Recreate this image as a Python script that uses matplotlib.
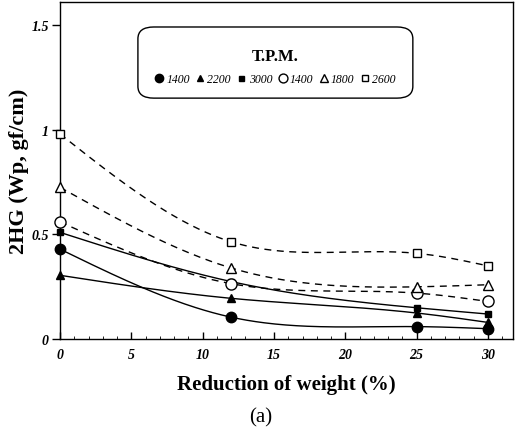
import numpy as np
import matplotlib.pyplot as plt
from matplotlib.patches import FancyBboxPatch
from matplotlib.ticker import MultipleLocator

# reduction of weight (%)
reduction = [0, 12, 25, 30]

# 2HG values per T.P.M. series
filled_1400 = [0.43, 0.105, 0.06, 0.05]
filled_2200 = [0.305, 0.195, 0.125, 0.08]
filled_3000 = [0.51, 0.275, 0.15, 0.12]
open_1400 = [0.56, 0.265, 0.22, 0.18]
open_1800 = [0.725, 0.34, 0.25, 0.26]
open_2600 = [0.98, 0.465, 0.41, 0.35]

labels = ['1400', '2200', '3000', '1400', '1800', '2600']


def natural_spline(x, y, n=200):
    # natural cubic spline through the measured points (smooth curve like the figure)
    x = np.asarray(x, float)
    y = np.asarray(y, float)
    k = len(x)
    h = np.diff(x)
    A = np.zeros((k, k))
    b = np.zeros(k)
    A[0, 0] = A[-1, -1] = 1
    for i in range(1, k - 1):
        A[i, i - 1] = h[i - 1]
        A[i, i] = 2 * (h[i - 1] + h[i])
        A[i, i + 1] = h[i]
        b[i] = 3 * ((y[i + 1] - y[i]) / h[i] - (y[i] - y[i - 1]) / h[i - 1])
    c = np.linalg.solve(A, b)
    xs = np.linspace(x[0], x[-1], n)
    ys = np.empty_like(xs)
    for j, xv in enumerate(xs):
        i = min(np.searchsorted(x, xv, side='right') - 1, k - 2)
        dx = xv - x[i]
        bi = (y[i + 1] - y[i]) / h[i] - h[i] * (2 * c[i] + c[i + 1]) / 3
        di = (c[i + 1] - c[i]) / (3 * h[i])
        ys[j] = y[i] + bi * dx + c[i] * dx ** 2 + di * dx ** 3
    return xs, ys


plt.rcParams['font.family'] = ['Liberation Serif', 'DejaVu Serif']

fig = plt.figure(figsize=(5.31, 4.35), dpi=100)
ax = fig.add_axes([0.113, 0.218, 0.853, 0.775])

series = [
    (filled_1400, 'o', 'k', '-', 7.5),
    (filled_2200, '^', 'k', '-', 6),
    (filled_3000, 's', 'k', '-', 4.5),
    (open_1400, 'o', 'white', '--', 8),
    (open_1800, '^', 'white', '--', 7),
    (open_2600, 's', 'white', '--', 5.5),
]

handles = []
for vals, mk, fc, ls, ms in series:
    xs, ys = natural_spline(reduction, vals)
    ax.plot(xs, ys, color='k', lw=1.0, ls=ls, dashes=(5, 4) if ls == '--' else (None, None), zorder=2)
    h, = ax.plot(reduction, vals, ls='none', marker=mk, mfc=fc, mec='k',
                 mew=1.0, ms=ms, zorder=3, clip_on=False)
    handles.append(h)

ax.set_xlim(0, 31.75)
ax.set_ylim(0, 1.61)
ax.xaxis.set_minor_locator(MultipleLocator(1))
ax.set_xticks([0, 5, 10, 15, 20, 25, 30])
ax.set_xticklabels(['0', '5', '10', '15', '20', '25', '30'])
ax.set_yticks([0, 0.5, 1, 1.5])
ax.set_yticklabels(['0', '0.5', '1', '1.5'])
ax.tick_params(axis='x', direction='in', length=5, width=1, pad=6)
ax.tick_params(axis='x', which='minor', direction='in', length=2.5)
ax.tick_params(axis='y', direction='out', length=6, width=1, pad=2)
for lab in ax.get_xticklabels() + ax.get_yticklabels():
    lab.set_fontstyle('italic')
    lab.set_fontweight('bold')
    lab.set_fontsize(10)
for sp in ax.spines.values():
    sp.set_linewidth(1.0)

ax.set_ylabel('2HG (Wp, gf/cm)', fontsize=16, fontweight='bold', labelpad=2)
ax.set_xlabel('Reduction of weight (%)', fontsize=15, fontweight='bold', labelpad=10)
fig.text(0.49, 0.04, '(a)', fontsize=15, ha='center', va='center')

# legend box
box = FancyBboxPatch((0.172, 0.715), 0.607, 0.211, transform=ax.transAxes,
                     boxstyle='round,pad=0,rounding_size=0.035', fc='white',
                     ec='k', lw=1.0, zorder=4)
ax.add_patch(box)
ax.text(0.476, 0.84, 'T.P.M.', transform=ax.transAxes, ha='center', va='center',
        fontsize=12, fontweight='bold', zorder=5)
leg = ax.legend(handles, labels, loc='center', bbox_to_anchor=(0.476, 0.772),
                ncol=6, frameon=False, handlelength=0.6, handletextpad=0.3,
                columnspacing=0.6, markerscale=0.8,
                prop={'style': 'italic', 'size': 8.5})
leg.set_zorder(6)

fig.savefig('out.png', dpi=100)
